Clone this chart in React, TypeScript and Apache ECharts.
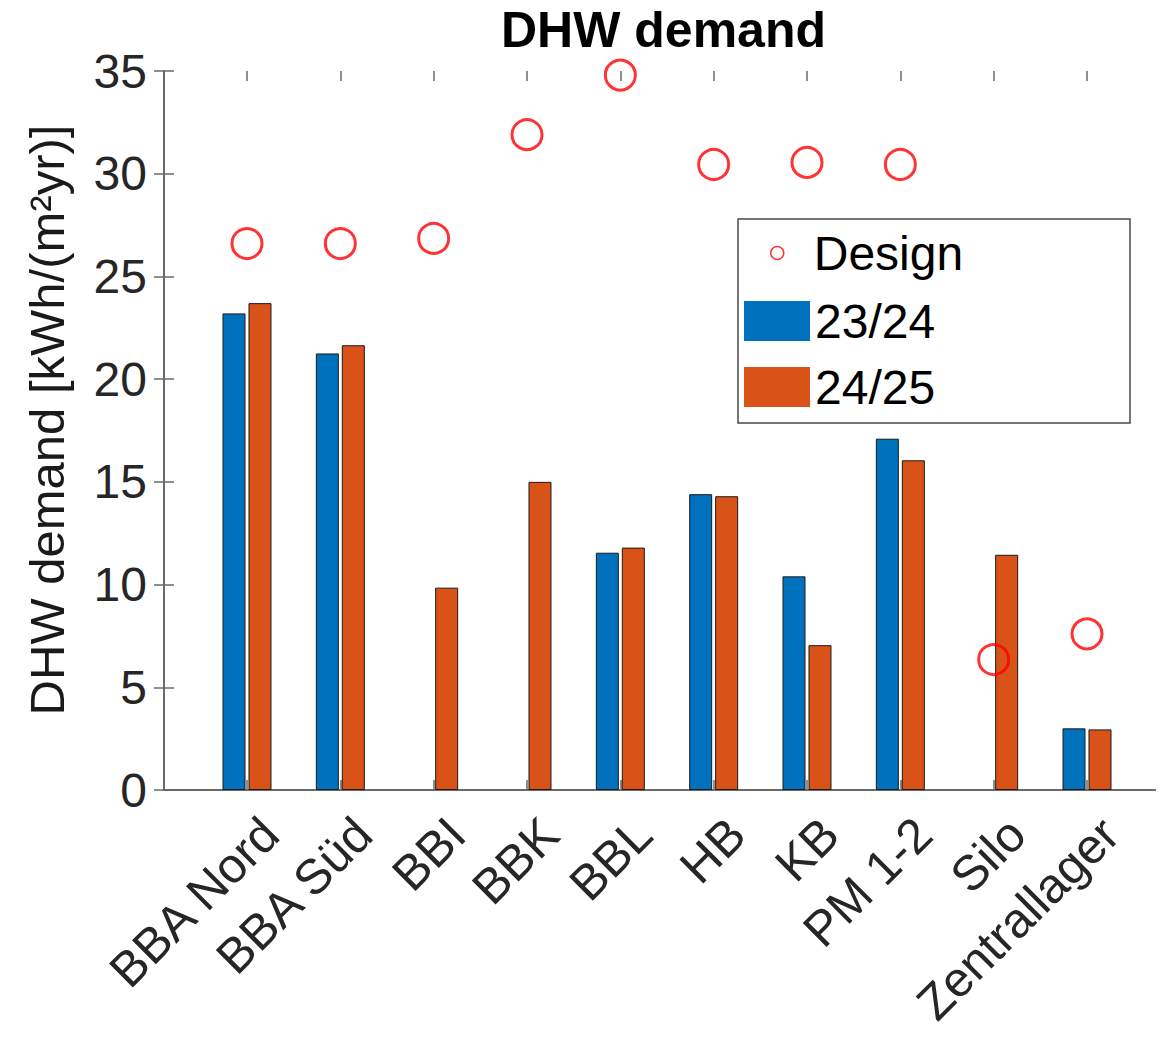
import React, { useEffect, useRef } from "react";
import * as echarts from "echarts";

const categories = ["BBA Nord", "BBA Süd", "BBI", "BBK", "BBL", "HB", "KB", "PM 1-2", "Silo", "Zentrallager"];
const season2324: (number | null)[] = [23.2, 21.25, null, null, 11.55, 14.4, 10.4, 17.1, null, 3.0];
const season2425: number[] = [23.7, 21.65, 9.85, 15.0, 11.8, 14.3, 7.05, 16.05, 11.45, 2.95];
const design: number[] = [26.6, 26.6, 26.85, 31.9, 34.8, 30.45, 30.55, 30.45, 6.35, 7.6];

const FONT = "'Liberation Sans', Arial, Helvetica, sans-serif";
const AXIS_COLOR = "#6a6a6a";
const TEXT_COLOR = "#262626";

export default function App() {
  const ref = useRef<HTMLDivElement>(null);
  useEffect(() => {
    document.body.style.margin = "0";
    if (!ref.current) return;
    const chart = echarts.init(ref.current, null, { renderer: "svg" });
    const lineStyle = { color: AXIS_COLOR, width: 2 };
    const tickStyle = { color: AXIS_COLOR, width: 1.5 };
    const option: any = {
      animation: false,
      backgroundColor: "#ffffff",
      textStyle: { fontFamily: FONT },
      title: {
        text: "DHW demand",
        left: 658.5,
        top: 0,
        textAlign: "center",
        textStyle: { fontSize: 50, fontWeight: "bold", color: "#000", fontFamily: FONT },
      },
      grid: [
        { left: 164, right: 14, top: 71, bottom: 248, outerBoundsMode: "none" },
        { left: 200.33, right: 35.33, top: 71, bottom: 248, outerBoundsMode: "none" },
        { left: 223.33, right: 12.33, top: 71, bottom: 248, outerBoundsMode: "none" },
      ],
      xAxis: [
        {
          gridIndex: 0, type: "value", min: 0, max: 1, position: "bottom",
          axisLine: { show: true, lineStyle }, axisTick: { show: false }, axisLabel: { show: false }, splitLine: { show: false },
        },
        {
          gridIndex: 0, type: "value", min: 0, max: 1, position: "top",
          axisLine: { show: true, lineStyle }, axisTick: { show: false }, axisLabel: { show: false }, splitLine: { show: false },
        },
        {
          gridIndex: 1, type: "category", data: categories, position: "bottom",
          axisLine: { show: false },
          axisTick: { show: true, inside: true, alignWithLabel: true, length: 10, lineStyle: tickStyle },
          axisLabel: { show: false },
        },
        {
          gridIndex: 1, type: "category", data: categories, position: "top",
          axisLine: { show: false },
          axisTick: { show: true, inside: true, alignWithLabel: true, length: 10, lineStyle: tickStyle },
          axisLabel: { show: false },
        },
        {
          gridIndex: 2, type: "category", data: categories, position: "bottom",
          axisLine: { show: false }, axisTick: { show: false },
          axisLabel: { show: true, rotate: 45, interval: 0, fontSize: 49, color: TEXT_COLOR, margin: 36, fontFamily: FONT },
        },
      ],
      yAxis: [
        {
          gridIndex: 0, type: "value", min: 0, max: 35, interval: 5, position: "left",
          axisLine: { show: true, lineStyle },
          axisTick: { show: true, inside: true, length: 10, lineStyle: tickStyle },
          axisLabel: { show: true, fontSize: 48, color: TEXT_COLOR, margin: 17, fontFamily: FONT },
          splitLine: { show: false },
        },
        {
          gridIndex: 0, type: "value", min: 0, max: 35, interval: 5, position: "right",
          axisLine: { show: true, lineStyle },
          axisTick: { show: true, inside: true, length: 10, lineStyle: tickStyle },
          axisLabel: { show: false }, splitLine: { show: false },
        },
        { gridIndex: 1, type: "value", min: 0, max: 35, show: false },
        { gridIndex: 2, type: "value", min: 0, max: 35, show: false },
      ],
      legend: [
        {
          z: 20,
          orient: "vertical",
          left: 770,
          top: 229,
          padding: 0,
          itemWidth: 13,
          itemHeight: 13,
          icon: "circle",
          data: ["Design"],
          itemStyle: { color: "rgba(0,0,0,0)", borderColor: "#ff0000", borderWidth: 1.5 },
          textStyle: { fontSize: 48, color: "#000", fontFamily: FONT, padding: [0, 0, 0, 25] },
        },
        {
          z: 20,
          orient: "vertical",
          left: 744,
          top: 297,
          padding: 0,
          itemWidth: 66,
          itemHeight: 40,
          itemGap: 18,
          icon: "rect",
          data: ["23/24", "24/25"],
          itemStyle: { borderWidth: 0 },
          textStyle: { fontSize: 48, color: "#000", fontFamily: FONT },
        },
      ],
      graphic: [
        {
          type: "rect",
          z: 15,
          shape: { x: 738, y: 219, width: 392, height: 204 },
          style: { fill: "#ffffff", stroke: "#4a4a4a", lineWidth: 1.5 },
        },
        {
          type: "text",
          x: 47,
          y: 420,
          rotation: Math.PI / 2,
          style: {
            text: "DHW demand [kWh/(m²yr)]",
            fontSize: 49,
            fontFamily: FONT,
            fill: "#1a1a1a",
            align: "center",
            verticalAlign: "middle",
          },
        },
      ],
      series: [
        {
          name: "23/24",
          type: "bar",
          xAxisIndex: 2,
          yAxisIndex: 2,
          data: season2324,
          barWidth: 23,
          barGap: "13%",
          itemStyle: { color: "#0072BD", borderColor: "#1a1a1a", borderWidth: 1 },
        },
        {
          name: "24/25",
          type: "bar",
          xAxisIndex: 2,
          yAxisIndex: 2,
          data: season2425,
          barWidth: 23,
          barGap: "13%",
          itemStyle: { color: "#D95319", borderColor: "#1a1a1a", borderWidth: 1 },
        },
        {
          name: "Design",
          type: "scatter",
          xAxisIndex: 2,
          yAxisIndex: 2,
          data: design,
          symbol: "circle",
          symbolSize: 30,
          z: 5,
          itemStyle: { color: "rgba(0,0,0,0)", borderColor: "#ff0000", borderWidth: 3 },
        },
      ],
    };
    chart.setOption(option);
    return () => chart.dispose();
  }, []);
  return <div ref={ref} style={{ width: 1169, height: 1038 }} />;
}
